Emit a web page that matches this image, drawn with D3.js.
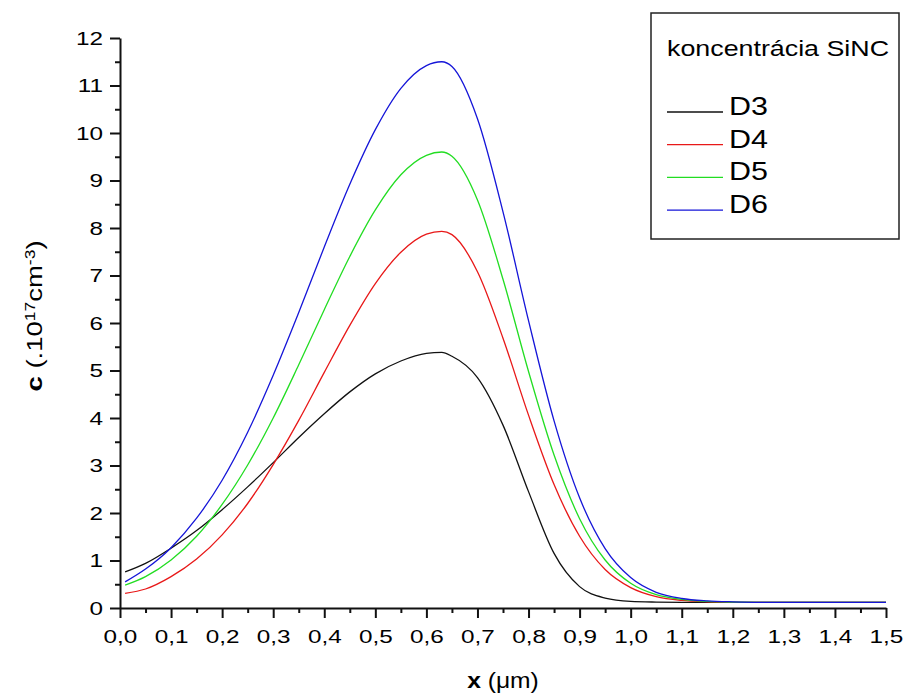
<!DOCTYPE html>
<html>
<head>
<meta charset="utf-8">
<script src="https://cdn.jsdelivr.net/npm/d3@7"></script>
<style>
  body { margin: 0; background: #fff; }
  svg text { font-family: "Liberation Sans", Arial, sans-serif; fill: #000; }
</style>
</head>
<body>
<svg id="chart" width="905" height="696"></svg>
<script>
// depth positions (um)
var xVals = [0.01, 0.05, 0.1, 0.15, 0.2, 0.25, 0.3, 0.35, 0.4, 0.45, 0.5, 0.55, 0.6, 0.63, 0.65,
             0.7, 0.75, 0.8, 0.85, 0.9, 0.95, 1.0, 1.05, 1.1, 1.15, 1.2, 1.25, 1.3, 1.4, 1.5];

var d3Vals = [0.76, 0.94, 1.26, 1.63, 2.07, 2.55, 3.06, 3.59, 4.09, 4.55, 4.93, 5.2, 5.36, 5.38, 5.3,
              4.85, 3.85, 2.45, 1.15, 0.45, 0.21, 0.14, 0.125, 0.12, 0.12, 0.12, 0.12, 0.12, 0.12, 0.12];
var d4Vals = [0.31, 0.40, 0.66, 1.03, 1.54, 2.20, 3.02, 3.95, 4.96, 5.95, 6.83, 7.49, 7.87, 7.93, 7.86,
              7.08, 5.68, 4.06, 2.60, 1.51, 0.81, 0.43, 0.24, 0.16, 0.13, 0.12, 0.12, 0.12, 0.12, 0.12];
var d5Vals = [0.48, 0.66, 1.01, 1.51, 2.18, 3.01, 4.0, 5.12, 6.28, 7.40, 8.38, 9.12, 9.53, 9.6, 9.51,
              8.59, 6.92, 4.98, 3.22, 1.88, 1.01, 0.52, 0.28, 0.18, 0.14, 0.125, 0.12, 0.12, 0.12, 0.12];
var d6Vals = [0.55, 0.82, 1.27, 1.89, 2.69, 3.70, 4.9, 6.22, 7.6, 8.92, 10.07, 10.94, 11.42, 11.5, 11.4,
              10.3, 8.34, 6.05, 3.94, 2.32, 1.25, 0.64, 0.33, 0.20, 0.15, 0.13, 0.12, 0.12, 0.12, 0.12];

var seriesNames = ["D3", "D4", "D5", "D6"];
var seriesColors = ["#111111", "#e81818", "#22dd22", "#1515d8"];

var xTicks = [0, 0.1, 0.2, 0.3, 0.4, 0.5, 0.6, 0.7, 0.8, 0.9, 1.0, 1.1, 1.2, 1.3, 1.4, 1.5];
var xTickLabels = ["0,0", "0,1", "0,2", "0,3", "0,4", "0,5", "0,6", "0,7", "0,8", "0,9",
                   "1,0", "1,1", "1,2", "1,3", "1,4", "1,5"];
var yTicks = [0, 1, 2, 3, 4, 5, 6, 7, 8, 9, 10, 11, 12];
var yTickLabels = ["0", "1", "2", "3", "4", "5", "6", "7", "8", "9", "10", "11", "12"];

var svg = d3.select("#chart");
var plotL = 120, plotR = 886, plotT = 38, plotB = 608;

var x = d3.scaleLinear().domain([0, 1.5]).range([plotL, plotR]);
var y = d3.scaleLinear().domain([0, 12]).range([plotB, plotT]);

// text in the original is a bit wider than Arial, stretch it sideways
function stretch(sel, s) {
  sel.each(function() {
    var t = d3.select(this);
    var tx = +t.attr("x") || 0;
    t.attr("transform", "translate(" + tx + ",0) scale(" + s + ",1) translate(" + (-tx) + ",0)");
  });
}

// minor ticks
var xMinor = xTicks.slice(0, -1).map(function(d) { return d + 0.05; });
var yMinor = yTicks.slice(0, -1).map(function(d) { return d + 0.5; });

svg.append("g")
  .attr("transform", "translate(0," + plotB + ")")
  .call(d3.axisBottom(x).tickValues(xMinor).tickSize(5).tickSizeOuter(0).tickFormat(""))
  .call(function(g) { g.select(".domain").remove(); })
  .selectAll("line").attr("stroke", "#111").attr("stroke-width", 2);

svg.append("g")
  .attr("transform", "translate(" + plotL + ",0)")
  .call(d3.axisLeft(y).tickValues(yMinor).tickSize(5).tickSizeOuter(0).tickFormat(""))
  .call(function(g) { g.select(".domain").remove(); })
  .selectAll("line").attr("stroke", "#111").attr("stroke-width", 2);

// major ticks + labels
var xAxis = svg.append("g")
  .attr("transform", "translate(0," + plotB + ")")
  .call(d3.axisBottom(x).tickValues(xTicks).tickSize(10).tickSizeOuter(0)
    .tickFormat(function(d, i) { return xTickLabels[i]; }));
xAxis.selectAll("line").attr("stroke", "#111").attr("stroke-width", 2);
xAxis.select(".domain").attr("stroke", "#111").attr("stroke-width", 2);
xAxis.selectAll("text")
  .attr("y", 35).attr("dy", null)
  .style("font-size", "18px")
  .call(stretch, 1.35);

var yAxis = svg.append("g")
  .attr("transform", "translate(" + plotL + ",0)")
  .call(d3.axisLeft(y).tickValues(yTicks).tickSize(10).tickSizeOuter(0)
    .tickFormat(function(d, i) { return yTickLabels[i]; }));
yAxis.selectAll("line").attr("stroke", "#111").attr("stroke-width", 2);
yAxis.select(".domain").attr("stroke", "#111").attr("stroke-width", 2);
yAxis.selectAll("text")
  .attr("x", -17).attr("dy", "0.36em")
  .style("font-size", "18px")
  .call(stretch, 1.35);

// curves
var allVals = [d3Vals, d4Vals, d5Vals, d6Vals];
var line = d3.line()
  .x(function(d, i) { return x(xVals[i]); })
  .y(function(d) { return y(d); })
  .curve(d3.curveMonotoneX);

svg.selectAll(".curve")
  .data(allVals)
  .enter()
  .append("path")
  .attr("class", "curve")
  .attr("fill", "none")
  .attr("stroke", function(d, i) { return seriesColors[i]; })
  .attr("stroke-width", 1.3)
  .attr("d", line);

// axis titles
var xt = svg.append("text")
  .attr("x", 503).attr("y", 688)
  .attr("text-anchor", "middle")
  .style("font-size", "22px");
xt.append("tspan").style("font-weight", "bold").text("x");
xt.append("tspan").text(" (\u03bcm)");
stretch(xt, 1.12);

var yt = svg.append("text")
  .attr("transform", "translate(42,316) rotate(-90) scale(1.25,1)")
  .attr("text-anchor", "middle")
  .style("font-size", "22px");
yt.append("tspan").style("font-weight", "bold").text("c");
yt.append("tspan").text(" (.10");
yt.append("tspan").attr("baseline-shift", "super").style("font-size", "14px").text("17");
yt.append("tspan").text("cm");
yt.append("tspan").attr("baseline-shift", "super").style("font-size", "14px").text("-3");
yt.append("tspan").text(")");

// legend
var lg = svg.append("g");
lg.append("rect")
  .attr("x", 651).attr("y", 13).attr("width", 248).attr("height", 226)
  .attr("fill", "#fff").attr("stroke", "#222").attr("stroke-width", 1.5);
lg.append("text")
  .attr("x", 667).attr("y", 56)
  .style("font-size", "22px")
  .text("koncentr\u00e1cia SiNC")
  .call(stretch, 1.22);

var items = lg.selectAll(".item")
  .data(seriesNames)
  .enter()
  .append("g")
  .attr("class", "item")
  .attr("transform", function(d, i) { return "translate(0," + (112 + i * 32.7) + ")"; });
items.append("line")
  .attr("x1", 667).attr("x2", 723)
  .attr("stroke", function(d, i) { return seriesColors[i]; })
  .attr("stroke-width", 1.3);
items.append("text")
  .attr("x", 729).attr("y", 3)
  .style("font-size", "25px")
  .text(function(d) { return d; })
  .call(stretch, 1.22);
</script>
</body>
</html>
